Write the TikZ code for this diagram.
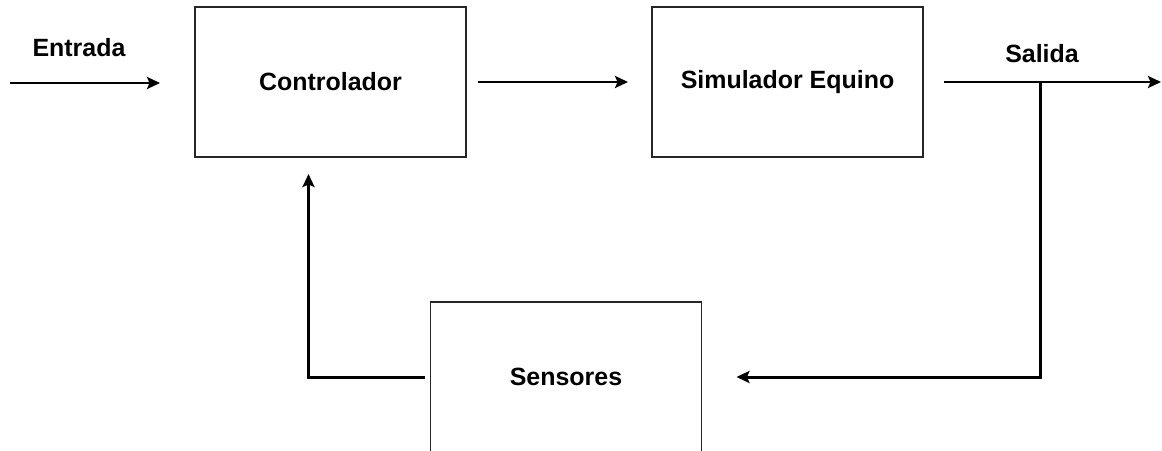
\documentclass[tikz,border=0pt]{standalone}
\usepackage{fontspec}
\setmainfont{Liberation Sans}
\usetikzlibrary{arrows.meta}

\begin{document}
\begin{tikzpicture}
  [x=0.02cm,y=-0.02cm,
   every node/.style={font=\bfseries\fontsize{14.2}{17}\selectfont},
   block/.style={draw=black!85,line width=0.9pt,minimum width=5.42cm,minimum height=3cm,outer sep=0pt},
   flow/.style={line width=1.7pt,-{Stealth[length=0.26cm,width=0.24cm,inset=0.05cm]}}]
  \useasboundingbox (0,0) rectangle (1162,450);
  \clip (0,0) rectangle (1162,450);

  \node[block] (ctrl) at (330.5,82) {Controlador};
  \node[block] (sim) at (787.5,82) {Simulador Equino};
  \node[block] (sens) at (566,377) {Sensores};

  \coordinate (in) at (10,83);
  \coordinate (out) at (1161,82);
  \coordinate (branch) at (1040,82);

  \node (lin) at (79,48) {Entrada};
  \node (lout) at (1042,54) {Salida};

  \draw[flow, shorten >=0.7cm] (in) -- (ctrl.west |- in);
  \draw[flow, shorten <=0.24cm, shorten >=0.48cm] (ctrl.east) -- (sim.west);
  \draw[flow, shorten <=0.42cm] (sim.east) -- (out);
  % feedback loop
  \draw[flow, shorten >=0.7cm] (branch) |- (sens.east);
  \draw[flow, shorten <=0.12cm, shorten >=0.34cm] (sens.west) -| ([xshift=-0.44cm]ctrl.south);
\end{tikzpicture}
\end{document}
